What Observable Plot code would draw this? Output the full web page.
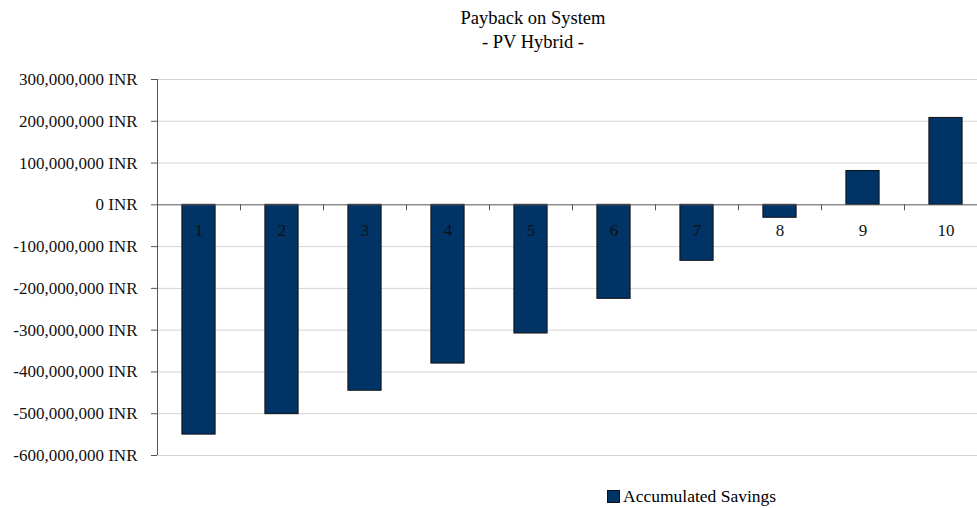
<!DOCTYPE html>
<html>
<head>
<meta charset="utf-8">
<script src="https://cdn.jsdelivr.net/npm/d3@7"></script>
<script src="https://cdn.jsdelivr.net/npm/@observablehq/plot@0.6"></script>
<style>
  html, body { margin: 0; padding: 0; background: #fff; }
  #wrap { position: relative; width: 977px; height: 508px; overflow: hidden; font-family: "Liberation Serif", serif; color: #000; }
  #title { position: absolute; top: 6px; left: 0; width: 977px; padding-left: 89px; box-sizing: border-box; text-align: center; font-size: 18.5px; line-height: 24px; }
  #chart { position: absolute; top: 60px; left: 0; }
  #legend { position: absolute; top: 487px; left: 607px; font-size: 17.5px; line-height: 19px; display: flex; align-items: center; }
  #legend .sw { width: 11px; height: 11px; background: #003366; border: 1px solid #111; margin-right: 3px; }
</style>
</head>
<body>
<div id="wrap">
  <div id="title">Payback on System<br>- PV Hybrid -</div>
  <div id="chart"></div>
  <div id="legend"><span class="sw"></span><span>Accumulated Savings</span></div>
</div>
<script>
const years = [1, 2, 3, 4, 5, 6, 7, 8, 9, 10];
const savings = [-550000000, -501000000, -445000000, -380000000, -308000000, -225000000, -134000000, -31000000, 81000000, 208000000];
const yTicks = [-600000000, -500000000, -400000000, -300000000, -200000000, -100000000, 0, 100000000, 200000000, 300000000];
const boundaries = [1.5, 2.5, 3.5, 4.5, 5.5, 6.5, 7.5, 8.5, 9.5];

const data = years.map((y, i) => ({year: y, value: savings[i]}));
const fmt = d => (d < 0 ? "-" : "") + d3.format(",")(Math.abs(d)) + " INR";

const chart = Plot.plot({
  width: 977,
  height: 410,
  marginLeft: 157,
  marginRight: -10,
  marginTop: 19,
  marginBottom: 15,
  style: {fontFamily: "Liberation Serif, serif", fontSize: "17px", color: "#000", background: "#fff"},
  x: {domain: [0.5, 10.5], axis: null},
  y: {domain: [-600000000, 300000000], label: null},
  marks: [
    Plot.ruleY(yTicks.filter(d => d !== 0), {stroke: "#d4d4d4", strokeWidth: 1}),
    Plot.axisY(yTicks, {tickFormat: fmt, tickSize: 6, tickPadding: 14, stroke: "#555", fontSize: 17, fill: "#111", label: null}),
    Plot.ruleX([0.5], {stroke: "#555"}),
    Plot.rectY(data, {x1: d => d.year - 0.2, x2: d => d.year + 0.2, y: "value", fill: "#003366", stroke: "#111", strokeWidth: 1}),
    Plot.ruleY([0], {stroke: "#555", strokeWidth: 1}),
    Plot.ruleX(boundaries, {x: d => d, y1: () => 0, y2: () => 0, insetBottom: -6, stroke: "#555"}),
    Plot.text(years, {x: d => d, y: () => 0, text: d => String(d), dy: 26, fontSize: 17, fill: "#111"})
  ]
});
document.getElementById("chart").appendChild(chart);
</script>
</body>
</html>
